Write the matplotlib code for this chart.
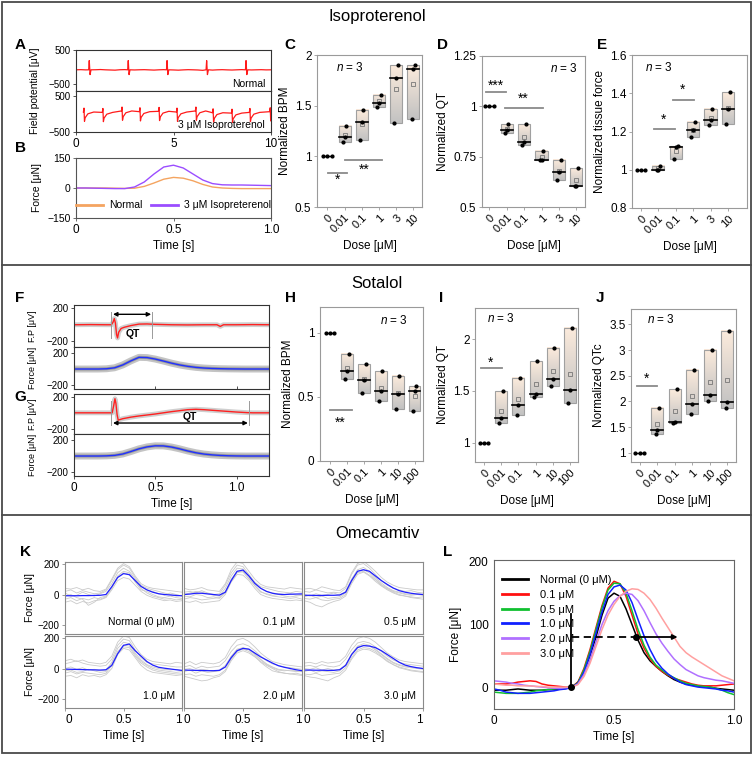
import numpy as np
import matplotlib
matplotlib.use('Agg')
import matplotlib.pyplot as plt
from matplotlib.colors import LinearSegmentedColormap
from matplotlib.patches import Rectangle
from matplotlib.lines import Line2D

plt.rcParams['font.family'] = ['Liberation Sans', 'DejaVu Sans']
plt.rcParams['mathtext.fontset'] = 'custom'
plt.rcParams['mathtext.it'] = 'Liberation Sans:italic'
plt.rcParams['mathtext.rm'] = 'Liberation Sans'
plt.rcParams['font.size'] = 8

# ---------------- data ----------------
# A: field potential traces [μV] over 10 s
a_normal_spikes = [0.68, 2.68, 4.67, 6.70, 8.72]
a_normal_level = -80
a_normal_spike_dt = [-0.03, 0.0, 0.04, 0.09]
a_normal_spike_dv = [0, 270, -140, 0]
a_normal_base = [-80, -75, -82, -88, -78, -72, -80, -85, -90, -78, -74, -80, -84, -79,
                 -76, -82, -88, -80, -75, -78, -84, -90, -82, -76, -80, -85, -95, -100,
                 -88, -80, -76, -82, -86, -80, -74, -78, -84, -80, -76, -82, -80]  # every 0.25 s
a_iso_spikes = [0.41, 1.38, 2.36, 3.28, 4.26, 5.18, 6.15, 7.03, 8.00, 8.92, 9.96]
a_iso_level = [60, 50, 90, 70, 80, 60, 90, 40, 30, 50, 70]
a_iso_spike_dt = [-0.03, 0.0, 0.025, 0.06, 0.2, 0.5]
a_iso_spike_dv = [0, 110, -260, -160, -50, 0]

# B: averaged force [μN], t = 0..1 s every 0.05 s
b_normal = [0, 0, 0, 0, -1, -2, -1, 8, 25, 44, 53, 49, 36, 18, 5, 0, -2, -3, -3, -3, -3]
b_iso = [0, 0, -1, -2, -3, -3, 5, 30, 70, 105, 114, 100, 70, 40, 22, 16, 15, 15, 14, 13, 12]

# C, D, E: isoproterenol dose response (3 tissues per dose)
iso_doses = ['0', '0.01', '0.1', '1', '3', '10']
c_bpm = [[1, 1, 1], [1.30, 1.19, 1.14], [1.46, 1.34, 1.16], [1.61, 1.53, 1.49],
         [1.90, 1.77, 1.33], [1.90, 1.86, 1.37]]
d_qt = [[1, 1, 1], [0.91, 0.884, 0.867], [0.91, 0.823, 0.807], [0.779, 0.733, 0.733],
        [0.734, 0.675, 0.634], [0.692, 0.605, 0.605]]
e_force = [[1, 1, 1], [1.022, 1.0, 1.0], [1.124, 1.119, 1.058], [1.25, 1.21, 1.171],
           [1.32, 1.262, 1.236], [1.404, 1.32, 1.238]]
# significance brackets: (from, to, level, stars, star x, star y)
c_sig = [(0.04, 1.16, 0.84, '*', 0.58, 0.77), (1.0, 3.2, 0.96, '**', 2.13, 0.87)]
d_sig = [(-0.2, 0.97, 1.069, '***', 0.35, 1.10), (0.9, 3.1, 0.99, '**', 1.95, 1.036)]
e_sig = [(0.75, 1.95, 1.215, '*', 1.3, 1.262), (1.85, 3.05, 1.364, '*', 2.4, 1.416)]

# F, G: sotalol traces, t in s
fg_t = np.arange(25) * 0.05
f_fp_t = [0, 0.1, 0.2, 0.23, 0.24, 0.248, 0.255, 0.262, 0.268, 0.275, 0.29, 0.31, 0.35,
          0.4, 0.45, 0.5, 0.6, 0.7, 0.8, 0.88, 0.9, 0.92, 1.0, 1.1, 1.2]
f_fp_v = [0, 2, 0, 0, 30, 75, 20, -120, -160, -90, -45, -30, -10, 8, 10, 5, 0, -2, 0, 0,
          -20, 0, 0, 2, 0]
f_force = [0, 0, 0, 0, 3, 15, 50, 100, 143, 140, 122, 98, 72, 50, 33, 20, 12, 7, 4, 2, 1,
           0, 0, 0, 0]
f_qt = (0.23, 0.48)
g_fp_t = [0, 0.1, 0.2, 0.235, 0.245, 0.252, 0.258, 0.265, 0.272, 0.3, 0.35, 0.4, 0.5, 0.6,
          0.7, 0.75, 0.8, 0.9, 1.0, 1.07, 1.1, 1.2]
g_fp_v = [0, 0, 0, 0, 100, 180, 120, -20, -93, -75, -55, -40, -15, 15, 40, 45, 40, 25, 10,
          2, 0, 0]
g_force = [0, 0, 0, 0, 2, 8, 25, 55, 88, 112, 125, 124, 110, 88, 62, 40, 24, 14, 7, 3, 1,
           0, 0, 0, 0]
g_qt = (0.23, 1.075)

# H, I, J: sotalol dose response
sot_doses = ['0', '0.01', '0.1', '1', '10', '100']
h_bpm = [[1, 1, 1], [0.836, 0.705, 0.64], [0.752, 0.634, 0.53], [0.70, 0.548, 0.47],
         [0.666, 0.522, 0.407], [0.582, 0.548, 0.392]]
i_qt = [[1, 1, 1], [1.497, 1.237, 1.195], [1.627, 1.364, 1.266], [1.786, 1.47, 1.44],
        [1.916, 1.617, 1.545], [2.104, 1.51, 1.38]]
j_qtc = [[1, 1, 1], [1.88, 1.436, 1.37], [2.237, 1.6, 1.58], [2.62, 1.957, 1.76],
         [3.01, 2.13, 2.0], [3.38, 1.99, 1.88]]
h_sig = [(0.0, 1.3, 0.394, '**', 0.6, 0.30)]
i_sig = [(-0.15, 1.05, 1.72, '*', 0.4, 1.77)]
j_sig = [(-0.15, 1.0, 2.30, '*', 0.4, 2.45)]

# K: omecamtiv single beats [μN], t = 0..1 s every 0.05 s
k_t = np.arange(21) * 0.05
k_labels = ['Normal (0 μM)', '0.1 μM', '0.5 μM', '1.0 μM', '2.0 μM', '3.0 μM']
k_mean_00 = [-8, -8, -8, -7, -7, -6, -5, 0, 50, 110, 135, 128, 90, 52, 30, 15, 5, 0, -3, -6, -8]
k_mean_01 = [0, 3, 8, 8, 4, 0, -4, 15, 90, 150, 158, 120, 72, 40, 20, 8, 2, 0, 2, 3, 4]
k_mean_05 = [-5, -5, -6, -6, -5, -5, -3, 15, 90, 150, 160, 150, 120, 90, 65, 42, 25, 15, 8, 3, 0]
k_mean_10 = [-4, -5, -6, -7, -8, -9, -10, -8, 20, 95, 150, 158, 115, 80, 45, 22, 8, 2, -3, -8, -12]
k_mean_20 = [-10, -11, -12, -13, -14, -14, -12, 10, 70, 115, 130, 125, 100, 75, 55, 35, 18, 8, 0, -8, -14]
k_mean_30 = [-10, -10, -11, -11, -12, -12, -8, 20, 90, 135, 148, 145, 135, 115, 90, 65, 40, 22, 12, 5, 0]
k_gray_00 = [[20, 30, 10, 25, 15, 5, 10, 30, 90, 160, 190, 170, 110, 60, 40, 30, 20, 10, 0, -10, -5],
             [-30, -20, -40, -25, -35, -20, -30, -15, 40, 110, 140, 130, 90, 40, 10, -10, -20, -30, -25, -35, -30],
             [10, -10, -5, 15, 0, -10, 5, 20, 70, 140, 170, 150, 100, 55, 30, 20, 5, -5, 10, 0, -10],
             [-50, -40, -60, -45, -55, -40, -35, -20, 30, 90, 110, 100, 60, 20, -5, -20, -30, -40, -35, -45, -40],
             [40, 35, 45, 30, 40, 25, 20, 35, 100, 170, 200, 180, 120, 70, 50, 40, 35, 30, 25, 20, 15],
             [-10, 0, -20, -30, -70, -50, -20, -10, 50, 120, 150, 140, 80, 30, 20, 0, -15, -20, -10, -20, -25]]
k_gray_01 = [[15, 20, 10, 25, 10, 0, 5, 60, 140, 190, 180, 130, 80, 50, 40, 30, 20, 15, 10, 20, 15],
             [-30, -20, -25, -35, -30, -25, -20, 20, 100, 150, 145, 100, 60, 20, 0, -10, -15, -20, -25, -20, -30],
             [0, 10, 20, 15, 5, -5, -10, 40, 120, 170, 165, 120, 75, 40, 20, 10, 5, 0, 5, -5, 0],
             [-45, -50, -40, -55, -50, -45, -40, 0, 80, 130, 125, 90, 40, 0, -15, -25, -30, -35, -40, -35, -40],
             [40, 30, 35, 45, 30, 25, 20, 70, 160, 210, 200, 150, 100, 65, 50, 45, 40, 35, 45, 40, 35],
             [-10, -15, 0, -5, -20, -15, -25, 10, 90, 140, 150, 110, 55, 15, 5, -5, 0, -10, -15, -10, -5]]
k_gray_05 = [[20, 15, 30, 20, 10, 15, 10, 40, 130, 190, 200, 170, 130, 90, 60, 40, 30, 20, 25, 15, 10],
             [-40, -50, -70, -80, -60, -45, -35, -10, 70, 130, 145, 120, 85, 55, 30, 10, -5, -10, -20, -25, -30],
             [0, -10, 5, -5, 0, 10, -5, 20, 100, 160, 175, 150, 110, 75, 45, 25, 15, 5, 0, 5, 0],
             [-25, -30, -20, -35, -40, -30, -25, 0, 80, 140, 150, 125, 95, 60, 35, 15, 0, -10, -15, -20, -15],
             [35, 40, 30, 50, 40, 30, 25, 50, 140, 200, 215, 185, 150, 110, 80, 60, 45, 40, 35, 30, 30],
             [-15, -5, -20, -10, -25, -20, -15, 10, 90, 150, 160, 140, 100, 65, 40, 20, 10, 0, -5, 0, -5]]
k_gray_10 = [[30, 40, 50, 35, 25, 20, 15, 20, 60, 150, 190, 180, 120, 70, 40, 30, 25, 20, 15, 10, 10],
             [-30, -20, -35, -25, -30, -35, -40, -30, 20, 100, 140, 135, 80, 35, 10, -10, -20, -25, -30, -35, -35],
             [0, 10, -5, 5, -10, -5, -15, -10, 40, 130, 170, 160, 100, 55, 25, 10, 0, -5, -10, -5, -15],
             [-50, -45, -60, -40, -50, -45, -55, -40, 0, 90, 130, 120, 70, 20, -10, -25, -30, -35, -40, -45, -40],
             [50, 60, 45, 55, 40, 35, 30, 40, 80, 170, 210, 200, 140, 90, 60, 45, 40, 35, 30, 40, 35],
             [-15, -10, -25, -20, -5, -15, -25, -20, 30, 110, 150, 145, 90, 45, 20, 0, -10, -15, -20, -25, -20]]
k_gray_20 = [[10, 20, 0, 15, 5, 10, 15, 50, 110, 150, 160, 145, 115, 80, 50, 30, 20, 10, 5, 0, -5],
             [-50, -60, -70, -80, -75, -60, -50, -20, 50, 100, 115, 100, 75, 45, 20, 0, -20, -30, -35, -40, -45],
             [-20, -10, -30, -15, -25, -20, -10, 20, 80, 125, 135, 125, 95, 60, 30, 10, -5, -10, -15, -20, -20],
             [-40, -35, -50, -40, -45, -50, -40, -10, 60, 110, 125, 110, 80, 40, 10, -15, -25, -30, -35, -30, -40],
             [30, 45, 25, 40, 35, 30, 40, 70, 140, 185, 195, 175, 140, 100, 70, 45, 35, 25, 20, 15, 10],
             [-5, 0, -15, -5, -10, -20, -15, 10, 75, 120, 130, 120, 90, 55, 25, 5, -10, -15, -10, -15, -20]]
k_gray_30 = [[15, 20, 10, 25, 15, 10, 20, 60, 120, 165, 175, 165, 140, 110, 80, 55, 40, 30, 25, 20, 15],
             [-45, -55, -60, -70, -80, -60, -45, -10, 60, 110, 125, 120, 100, 75, 45, 25, 10, 0, -10, -15, -20],
             [-20, -10, -25, -15, -20, -25, -15, 20, 90, 140, 150, 145, 120, 90, 60, 35, 20, 10, 5, 0, -5],
             [-35, -40, -30, -45, -40, -35, -30, 5, 70, 120, 135, 130, 110, 80, 50, 25, 5, -5, -15, -20, -25],
             [35, 40, 30, 45, 35, 40, 45, 80, 150, 195, 205, 195, 170, 135, 100, 75, 55, 45, 40, 35, 30],
             [0, -5, 5, -10, 0, -10, -5, 25, 95, 145, 160, 150, 125, 95, 65, 40, 25, 15, 10, 5, 0]]

# L: averaged force per dose [μN], t = 0..1 s every 0.025 s
l_t = np.arange(41) * 0.025
l_labels = ['Normal (0 μM)', '0.1 μM', '0.5 μM', '1.0 μM', '2.0 μM', '3.0 μM']
l_00 = [-5, -5, -5, -4, -3, -4, -5, -5, -5, -4, -4, -3, -2, 0, 8, 25, 50, 80, 115, 142, 150,
        145, 125, 100, 75, 55, 42, 33, 25, 18, 12, 8, 5, 3, 2, 1, 0, -2, -3, -4, -5]
l_01 = [5, 5, 5, 6, 8, 9, 10, 9, 5, 3, 2, 1, 0, 0, 8, 30, 60, 95, 130, 158, 169, 165, 145,
        115, 85, 62, 45, 33, 25, 19, 14, 11, 8, 5, 3, 2, 2, 2, 3, 4, 5]
l_05 = [-8, -9, -10, -10, -10, -9, -8, -6, -5, -4, -3, -2, -1, 0, 7, 28, 57, 92, 127, 155, 166,
        165, 150, 122, 92, 67, 48, 35, 27, 20, 15, 10, 6, 4, 2, 1, 0, -2, -5, -9, -12]
l_10 = [-3, -5, -8, -9, -10, -10, -10, -9, -8, -7, -6, -4, -3, 0, 6, 24, 52, 86, 120, 148, 160,
        163, 155, 135, 108, 82, 60, 42, 30, 21, 14, 8, 4, 2, 0, -1, -2, -3, -5, -6, -8]
l_20 = [10, 9, 8, 6, 5, 3, 2, 1, 0, -1, -2, -2, -1, 0, 5, 20, 43, 72, 100, 122, 137, 146, 150,
        148, 138, 122, 103, 85, 70, 57, 45, 36, 28, 23, 18, 15, 13, 11, 10, 8, 6]
l_30 = [5, 4, 3, 3, 2, 2, 2, 1, 1, 0, 0, 0, 0, 0, 4, 17, 38, 65, 92, 115, 132, 145, 153, 157,
        156, 150, 140, 126, 110, 95, 80, 65, 55, 48, 42, 36, 30, 24, 18, 14, 10]
l_onset = 0.32
l_level = 80
l_relax = 0.59
l_arrow_end = 0.765
l_marker_top = 117

# ---------------- figure ----------------
W, H = 754, 761
fig = plt.figure(figsize=(W / 100, H / 100), dpi=100)


def add_ax(x0, y0, x1, y1):
    return fig.add_axes([x0 / W, 1 - y1 / H, (x1 - x0) / W, (y1 - y0) / H])


def style(ax, edge='#555555', size=7.5):
    for s in ax.spines.values():
        s.set_color(edge)
        s.set_linewidth(0.8)
    ax.tick_params(labelsize=size, length=2.5, width=0.6, color=edge, pad=1.5)


def ftext(x, y, s, **kw):
    fig.text(x / W, 1 - y / H, s, **kw)


def spike_train(times, levels, dts, dvs):
    pts = []
    for t0, lv in zip(times, levels):
        pts += [(t0 + dt, lv + dv) for dt, dv in zip(dts, dvs)]
    return pts


# section frames and titles
frame = '#4a4a4a'
fig.add_artist(Rectangle((2 / W, 1 - 753 / H), 749 / W, 751 / H, transform=fig.transFigure,
                         fill=False, ec=frame, lw=1.3))
for yy in (265, 515):
    fig.add_artist(Line2D([2 / W, 751 / W], [1 - yy / H] * 2, transform=fig.transFigure,
                          color=frame, lw=1.3))
for s, yy in [('Isoproterenol', 17), ('Sotalol', 283), ('Omecamtiv', 533)]:
    ftext(377, yy, s, ha='center', va='center', fontsize=12)
for s, x, y in [('A', 20, 45), ('B', 20, 148), ('C', 290, 45), ('D', 443, 45), ('E', 602, 45),
                ('F', 20, 298), ('G', 20, 397), ('H', 290, 298), ('I', 441, 298),
                ('J', 600, 298), ('K', 25, 552), ('L', 448, 552)]:
    ftext(x, y, s, ha='center', va='center', fontsize=11, fontweight='bold')

# ---- A ----
base_t = np.arange(len(a_normal_base)) * 0.25
pts = [(bt, bv) for bt, bv in zip(base_t, a_normal_base)
       if all(not (s - 0.04 < bt < s + 0.1) for s in a_normal_spikes)]
pts += spike_train(a_normal_spikes, [a_normal_level] * len(a_normal_spikes),
                   a_normal_spike_dt, a_normal_spike_dv)
pts.sort()
ax = add_ax(76, 50, 271, 91)
ax.plot([p[0] for p in pts], [p[1] for p in pts], color='#ff1a1a', lw=0.9)
ax.set_xlim(0, 10)
ax.set_ylim(-700, 500)
ax.set_yticks([-500, 500], ['−500', '500'])
ax.set_xticks([])
ax.text(0.97, 0.06, 'Normal', transform=ax.transAxes, ha='right', va='bottom', fontsize=7.5)
style(ax, '#333333', 7)

pts = spike_train(a_iso_spikes, a_iso_level, a_iso_spike_dt, a_iso_spike_dv)
ax = add_ax(76, 91, 271, 132)
ax.plot([p[0] for p in pts], [p[1] for p in pts], color='#ff1a1a', lw=0.9)
ax.set_xlim(0, 10)
ax.set_ylim(-500, 650)
ax.set_yticks([-500, 500], ['−500', '500'])
ax.set_xticks([0, 5, 10], ['0', '5', '10'])
ax.text(0.97, 0.06, '3 μM Isoproterenol', transform=ax.transAxes, ha='right', va='bottom',
        fontsize=7.5)
style(ax, '#333333', 7)
ax.tick_params(axis='x', labelsize=8.5)
ftext(35, 91, 'Field potential [μV]', rotation=90, ha='center', va='center', fontsize=7.5)

# ---- B ----
ax = add_ax(76, 158, 271, 218)
b_t = np.arange(21) * 0.05
ax.plot(b_t, b_normal, color='#f4a460', lw=1.0, label='Normal')
ax.plot(b_t, b_iso, color='#9b4dff', lw=1.0, label='3 μM Isopreterenol')
ax.set_xlim(0, 1)
ax.set_ylim(-150, 150)
ax.set_yticks([-150, 0, 150], ['−150', '0', '150'])
ax.set_xticks([0, 0.5, 1.0], ['0', '0.5', '1.0'])
ax.set_ylabel('Force [μN]', fontsize=7.5, labelpad=4)
ax.set_xlabel('Time [s]', fontsize=8.5, labelpad=3)
style(ax, '#555555')
ax.tick_params(axis='x', labelsize=8.5)
leg = ax.legend(loc='lower center', bbox_to_anchor=(0.5, -0.03), ncol=2, frameon=False,
                fontsize=7.5, handlelength=2.6, columnspacing=0.8, handletextpad=0.6)
for ln in leg.get_lines():
    ln.set_linewidth(2)

# ---- dose-response panels ----
grad_cmap = LinearSegmentedColormap.from_list('pg', ['#c2c2c2', '#fcebdc'])
grad = np.linspace(0, 1, 64).reshape(-1, 1)


def dose_panel(box, data, doses, xlim, ylim, yticks, yticklabels, ylabel, sig, ntxt):
    ax = add_ax(*box)
    for i, p in enumerate(data):
        lo, hi = min(p), max(p)
        med = float(np.median(p))
        if hi - lo > 1e-9:
            ax.imshow(grad, extent=[i - 0.35, i + 0.35, lo, hi], origin='lower', cmap=grad_cmap,
                      aspect='auto', zorder=1)
            ax.add_patch(Rectangle((i - 0.35, lo), 0.7, hi - lo, fill=False, ec='#a0a0a0',
                                   lw=0.8, zorder=2))
            ax.plot(i, float(np.mean(p)), 's', ms=2.4, mfc='none', mec='#777777', mew=0.6,
                    zorder=3)
            ax.plot([i - 0.35, i + 0.35], [med, med], color='k', lw=1.2, zorder=3)
            offs = [0.1, 0.0, -0.1]
        else:
            ax.plot([i - 0.25, i + 0.25], [med, med], color='k', lw=1.0, zorder=3)
            offs = [-0.25, 0.0, 0.25]
        ax.plot(i + np.array(offs), sorted(p, reverse=True), 'o', ms=2.0, color='k', zorder=4)
    for x0, x1, y, s, sx, sy in sig:
        ax.plot([x0, x1], [y, y], color='#8a8a8a', lw=1.3, zorder=2)
        ax.text(sx, sy, s, ha='center', va='center', fontsize=10)
    ax.set_xlim(*xlim)
    ax.set_ylim(*ylim)
    ax.set_yticks(yticks, yticklabels)
    ax.set_xticks(range(len(doses)))
    ax.set_xticklabels(doses, rotation=45, ha='right', rotation_mode='anchor')
    ax.set_ylabel(ylabel, fontsize=8.5, labelpad=3)
    ax.set_xlabel('Dose [μM]', fontsize=8.5, labelpad=4)
    style(ax, '#9a9a9a', 8.5)
    ax.tick_params(axis='x', labelsize=8)
    nx, ny, ha = ntxt
    ax.text(nx, ny, '$n$ = 3', transform=ax.transAxes, ha=ha, va='center', fontsize=8.5)
    return ax


dose_panel((317, 55, 422, 207), c_bpm, iso_doses, (-0.6, 5.5), (0.5, 2),
           [0.5, 1, 1.5, 2], ['0.5', '1', '1.5', '2'], 'Normalized BPM', c_sig, (0.18, 0.92, 'left'))
dose_panel((482, 56, 585, 207), d_qt, iso_doses, (-0.42, 5.5), (0.5, 1.25),
           [0.5, 0.75, 1, 1.25], ['0.5', '0.75', '1', '1.25'], 'Normalized QT', d_sig,
           (0.93, 0.92, 'right'))
dose_panel((632, 55, 747, 208), e_force, iso_doses, (-0.52, 6.1), (0.8, 1.6),
           [0.8, 1, 1.2, 1.4, 1.6], ['0.8', '1', '1.2', '1.4', '1.6'], 'Normalized tissue force',
           e_sig, (0.11, 0.92, 'left'))
dose_panel((320, 307, 423, 461), h_bpm, sot_doses, (-0.6, 5.5), (0, 1.2),
           [0, 0.5, 1], ['0', '0.5', '1'], 'Normalized BPM', h_sig, (0.58, 0.91, 'left'))
dose_panel((475, 308, 578, 462), i_qt, sot_doses, (-0.52, 5.47), (0.815, 2.3),
           [1, 1.5, 2], ['1', '1.5', '2'], 'Normalized QT', i_sig, (0.12, 0.93, 'left'))
dose_panel((631, 309, 736, 462), j_qtc, sot_doses, (-0.5, 5.5), (0.82, 3.8),
           [1, 1.5, 2, 2.5, 3, 3.5], ['1', '1.5', '2', '2.5', '3', '3.5'], 'Normalized QTc',
           j_sig, (0.15, 0.93, 'left'))

# ---- F, G ----


def fp_axes(box, t, v, qt, arrow_y, qt_xy):
    ax = add_ax(*box)
    ax.plot(t, v, color='#cfcfcf', lw=3.5, solid_capstyle='round')
    ax.plot(t, v, color='#ff2020', lw=1.0)
    for q in qt:
        ax.plot([q, q], [-160, 150], color='#9a9a9a', lw=0.7)
    ax.annotate('', xy=(qt[1] - 0.005, arrow_y), xytext=(qt[0] + 0.01, arrow_y),
                arrowprops=dict(arrowstyle='<|-|>', color='k', lw=1.0, mutation_scale=6,
                                shrinkA=0, shrinkB=0))
    ax.text(qt_xy[0], qt_xy[1], 'QT', ha='center', va='center', fontsize=7.5, fontweight='bold')
    ax.set_xlim(0, 1.2)
    ax.set_ylim(-270, 240)
    ax.set_yticks([-200, 200], ['−200', '200'])
    ax.set_xticks([])
    ax.set_ylabel('F.P [μV]', fontsize=6.5)
    ax.yaxis.set_label_coords(-0.19, 0.5)
    style(ax, '#333333', 7)
    return ax


def force_axes(box, y, show_x):
    ax = add_ax(*box)
    ax.plot(fg_t, y, color='#c4c4c4', lw=5, solid_capstyle='round')
    ax.plot(fg_t, y, color='#9a9a9a', lw=2.2)
    ax.plot(fg_t, y, color='#2030ff', lw=1.0)
    ax.set_xlim(0, 1.2)
    ax.set_ylim(-245, 270)
    ax.set_yticks([-200, 200], ['−200', '200'])
    ax.set_ylabel('Force [μN]', fontsize=6.5)
    ax.yaxis.set_label_coords(-0.19, 0.5)
    style(ax, '#333333', 7)
    if show_x:
        ax.set_xticks([0, 0.5, 1.0], ['0', '0.5', '1.0'])
        ax.tick_params(axis='x', labelsize=8.5)
        ax.set_xlabel('Time [s]', fontsize=8.5, labelpad=3)
    else:
        ax.set_xticks([0.5, 1.0], ['', ''])
        ax.tick_params(axis='x', direction='in')
    return ax


fp_axes((74, 305, 269, 347), f_fp_t, f_fp_v, f_qt, 127, (0.365, -115))
force_axes((74, 347, 269, 389), f_force, False)
fp_axes((74, 394, 269, 434), g_fp_t, g_fp_v, g_qt, -130, (0.71, -55))
force_axes((74, 434, 269, 476), g_force, True)

# ---- K ----
k_means = [k_mean_00, k_mean_01, k_mean_05, k_mean_10, k_mean_20, k_mean_30]
k_grays = [k_gray_00, k_gray_01, k_gray_05, k_gray_10, k_gray_20, k_gray_30]
k_cols = [(65, 182), (184, 302), (304, 423)]
k_rows = [(562, 634), (636, 708)]
for idx in range(6):
    r, c = divmod(idx, 3)
    ax = add_ax(k_cols[c][0], k_rows[r][0], k_cols[c][1], k_rows[r][1])
    for g in k_grays[idx]:
        ax.plot(k_t, g, color='#cacaca', lw=0.6)
    ax.plot(k_t, k_means[idx], color='#2020ff', lw=0.9)
    ax.set_xlim(0, 1)
    ax.set_ylim(-255, 210)
    ax.text(0.94, 0.17, k_labels[idx], transform=ax.transAxes, ha='right', va='center',
            fontsize=7.5)
    style(ax, '#8a8a8a', 7)
    if c == 0:
        ax.set_yticks([-200, 0, 200], ['−200', '0', '200'])
        ax.set_ylabel('Force [μN]', fontsize=7.5, labelpad=2)
    else:
        ax.set_yticks([])
    if r == 1:
        ax.set_xticks([0, 0.5, 1], ['0', '0.5', '1'])
        ax.tick_params(axis='x', labelsize=8.5)
        for lab, al in zip(ax.get_xticklabels(), ['left', 'center', 'right']):
            lab.set_ha(al)
        ax.set_xlabel('Time [s]', fontsize=8.5, labelpad=3)
    else:
        ax.set_xticks([])

# ---- L ----
ax = add_ax(494, 560, 734, 709)
l_colors = ['#000000', '#ff1010', '#10c030', '#1020ff', '#b070ff', '#ffa0a0']
for y, col, lab in zip([l_00, l_01, l_05, l_10, l_20, l_30], l_colors, l_labels):
    ax.plot(l_t, y, color=col, lw=1.1, label=lab)
ax.plot([l_onset, l_onset], [0, l_marker_top], color='k', lw=1.3)
ax.plot([l_onset + 0.005, l_relax], [l_level, l_level], color='k', lw=1.3, ls=(0, (4, 2.5)))
ax.annotate('', xy=(l_arrow_end, l_level), xytext=(l_relax, l_level),
            arrowprops=dict(arrowstyle='-|>', color='k', lw=1.3, mutation_scale=7,
                            shrinkA=0, shrinkB=0))
ax.plot([l_onset, l_relax], [0, l_level], 'o', color='k', ms=4)
ax.set_xlim(0, 1)
ax.set_ylim(-35, 203)
ax.set_xticks([0, 0.5, 1.0], ['0', '0.5', '1.0'])
ax.set_yticks([0, 100, 200], ['0', '100', '200'])
ax.set_xlabel('Time [s]', fontsize=8.5, labelpad=3)
ax.set_ylabel('Force [μN]', fontsize=8.5, labelpad=5)
style(ax, '#666666', 8.5)
ax.tick_params(length=0, pad=4)
leg = ax.legend(loc='upper left', bbox_to_anchor=(0.0, 0.95), frameon=False, fontsize=8,
                handlelength=2.4, labelspacing=0.42, handletextpad=1.0, borderaxespad=0.3)
for ln in leg.get_lines():
    ln.set_linewidth(2)

fig.savefig('out.png', dpi=100)
